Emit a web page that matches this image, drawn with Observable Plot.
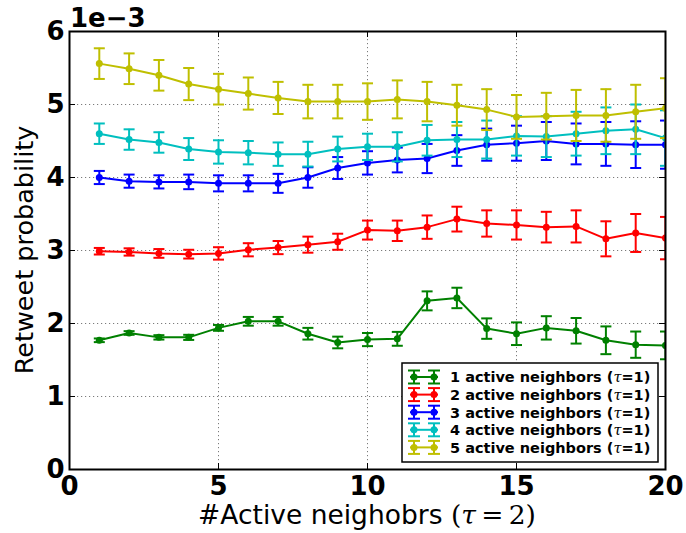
<!DOCTYPE html>
<html><head><meta charset="utf-8">
<script src="https://cdn.jsdelivr.net/npm/d3@7"></script>
<script src="https://cdn.jsdelivr.net/npm/@observablehq/plot@0.6"></script>
<style>body{margin:0;background:#fff} svg{display:block}</style>
</head><body><div id="chart"></div>
<script>
// x: number of active neighbors (tau = 2)
const xs = [1,2,3,4,5,6,7,8,9,10,11,12,13,14,15,16,17,18,19,20];
// values in units of 1e-3
const mean1 = [1.77,1.87,1.81,1.81,1.94,2.03,2.03,1.86,1.74,1.78,1.79,2.31,2.35,1.93,1.86,1.94,1.90,1.77,1.71,1.70];
const err1  = [0.025,0.025,0.03,0.035,0.04,0.06,0.06,0.08,0.08,0.09,0.095,0.13,0.14,0.14,0.155,0.16,0.175,0.19,0.18,0.19];
const mean2 = [2.99,2.98,2.96,2.95,2.96,3.01,3.04,3.08,3.12,3.28,3.27,3.32,3.43,3.37,3.35,3.32,3.33,3.16,3.24,3.17];
const err2  = [0.045,0.05,0.06,0.06,0.085,0.09,0.09,0.11,0.11,0.13,0.14,0.16,0.17,0.18,0.20,0.21,0.22,0.24,0.26,0.29];
const mean3 = [4.00,3.95,3.94,3.94,3.92,3.92,3.92,4.00,4.13,4.20,4.24,4.26,4.37,4.45,4.47,4.50,4.46,4.46,4.45,4.45];
const err3  = [0.09,0.09,0.09,0.10,0.11,0.11,0.13,0.14,0.15,0.16,0.17,0.20,0.21,0.22,0.24,0.26,0.28,0.30,0.32,0.33];
const mean4 = [4.60,4.52,4.48,4.39,4.35,4.34,4.32,4.32,4.39,4.42,4.42,4.51,4.52,4.52,4.57,4.56,4.60,4.64,4.66,4.54];
const err4  = [0.14,0.14,0.14,0.15,0.16,0.16,0.16,0.17,0.17,0.18,0.20,0.21,0.24,0.26,0.27,0.28,0.30,0.32,0.34,0.38];
const mean5 = [5.56,5.49,5.40,5.28,5.21,5.15,5.09,5.04,5.04,5.04,5.07,5.04,4.99,4.93,4.83,4.84,4.85,4.85,4.90,4.95];
const err5  = [0.21,0.21,0.21,0.22,0.21,0.22,0.22,0.23,0.23,0.25,0.26,0.27,0.28,0.28,0.30,0.32,0.35,0.36,0.37,0.41];

const seriesNames = ["1 active neighbors","2 active neighbors","3 active neighbors","4 active neighbors","5 active neighbors"];
const seriesTau = "1";
const colors = ["#008000","#ff0000","#0000ff","#00bfbf","#bfbf00"];
const xTicks = [0,5,10,15,20];
const yTicks = [0,1,2,3,4,5,6];
const xGrid = [5,10,15];
const yGrid = [1,2,3,4,5];
const xLabelText = "#Active neighobrs ";
const xLabelTau = "2";
const yLabelText = "Retweet probability";
const exponentText = "1e\u22123";

const means = [mean1,mean2,mean3,mean4,mean5];
const errs = [err1,err2,err3,err4,err5];
const rows = seriesNames.flatMap((name,i) => xs.map((x,j) => ({
  series: name, x, y: means[i][j], lo: means[i][j]-errs[i][j], hi: means[i][j]+errs[i][j]
})));

const capSymbol = {draw(ctx, size){ const r = Math.sqrt(size/Math.PI); ctx.moveTo(-r,0); ctx.lineTo(r,0); }};

const W = 686, H = 533, ML = 69, MR = 21, MT = 31, MB = 64;
const innerW = W-ML-MR, innerH = H-MT-MB;

const seriesMarks = seriesNames.flatMap(name => {
  const d = rows.filter(r => r.series === name);
  return [
    Plot.line(d, {x:"x", y:"y", stroke:"series", strokeWidth:2, clip:true}),
    Plot.ruleX(d, {x:"x", y1:"lo", y2:"hi", stroke:"series", strokeWidth:2, clip:true}),
    Plot.dot(d, {x:"x", y:"lo", symbol:capSymbol, r:5.5, fill:"none", stroke:"series", strokeWidth:2, clip:true}),
    Plot.dot(d, {x:"x", y:"hi", symbol:capSymbol, r:5.5, fill:"none", stroke:"series", strokeWidth:2, clip:true}),
    Plot.dot(d, {x:"x", y:"y", r:3.5, fill:"series", clip:true})
  ];
});

const chart = Plot.plot({
  width: W, height: H,
  marginLeft: ML, marginRight: MR, marginTop: MT, marginBottom: MB,
  style: {fontFamily: "DejaVu Sans", background: "#fff", color: "#000"},
  x: {domain: [0,20]},
  y: {domain: [0,6]},
  color: {domain: seriesNames, range: colors},
  marks: [
    Plot.gridY(yGrid, {stroke:"#000", strokeOpacity:0.65, strokeWidth:0.8, strokeDasharray:"1.2,2.8"}),
    Plot.gridX(xGrid, {stroke:"#000", strokeOpacity:0.65, strokeWidth:0.8, strokeDasharray:"1.2,2.8"}),
    ...seriesMarks,
    Plot.ruleX(xTicks, {x: d => d, insetTop: innerH-6, stroke:"#000", strokeWidth:1}),
    Plot.ruleX(xTicks, {x: d => d, insetBottom: innerH-6, stroke:"#000", strokeWidth:1}),
    Plot.ruleY(yTicks, {y: d => d, insetRight: innerW-6, stroke:"#000", strokeWidth:1}),
    Plot.ruleY(yTicks, {y: d => d, insetLeft: innerW-6, stroke:"#000", strokeWidth:1}),
    Plot.frame({stroke:"#000", strokeWidth:2}),
    Plot.axisX(xTicks, {tickSize:0, tickPadding:7, fontSize:26, fontWeight:"bold", label:null, tickFormat: d3.format("d")}),
    Plot.axisY(yTicks, {tickSize:0, tickPadding:5, fontSize:26, fontWeight:"bold", label:null, tickFormat: d3.format("d")})
  ]
});
document.getElementById("chart").appendChild(chart);

const svg = d3.select(chart);
const sx = chart.scale("x"), sy = chart.scale("y");
const x0 = sx.range[0], x1 = sx.range[1];
const yb = sy.range[0], yt = sy.range[1];

// exponent label
svg.append("text").attr("x", x0+1).attr("y", yt-4).attr("text-anchor","start")
  .attr("font-family","DejaVu Sans").attr("font-weight","bold").attr("font-size",26)
  .attr("fill","#000").text(exponentText);

// x label
const xl = svg.append("text").attr("x", (x0+x1)/2).attr("y", yb+55)
  .attr("text-anchor","middle").attr("font-family","DejaVu Sans").attr("font-size",26.5).attr("fill","#000");
xl.append("tspan").text(xLabelText);
xl.append("tspan").attr("font-family","DejaVu Serif").text("(");
xl.append("tspan").attr("font-family","DejaVu Serif").attr("font-style","italic").text("\u03c4");
xl.append("tspan").attr("font-family","DejaVu Serif").text("\u2009=\u2009" + xLabelTau + ")");

// y label
svg.append("text").attr("transform", `translate(33,${(yb+yt)/2}) rotate(-90)`)
  .attr("text-anchor","middle").attr("font-family","DejaVu Sans").attr("font-size",25.5)
  .attr("fill","#000").text(yLabelText);

// legend
const lg = svg.append("g");
const bx1 = x1-7, by1 = yb-7, bw = 256, bh = 99;
lg.append("rect").attr("x", bx1-bw).attr("y", by1-bh).attr("width", bw).attr("height", bh)
  .attr("fill","#fff").attr("stroke","#000").attr("stroke-width",1.5);
seriesNames.forEach((name,i) => {
  const cy = by1-bh+14 + i*17.6;
  const hx0 = bx1-bw+8, ma = hx0+4, mb = hx0+24, hx1 = hx0+28;
  const c = colors[i];
  lg.append("line").attr("x1",hx0).attr("x2",hx1).attr("y1",cy).attr("y2",cy).attr("stroke",c).attr("stroke-width",2);
  [ma,mb].forEach(mx => {
    lg.append("line").attr("x1",mx).attr("x2",mx).attr("y1",cy-6.5).attr("y2",cy+6.5).attr("stroke",c).attr("stroke-width",2);
    lg.append("line").attr("x1",mx-6).attr("x2",mx+6).attr("y1",cy-6.5).attr("y2",cy-6.5).attr("stroke",c).attr("stroke-width",2);
    lg.append("line").attr("x1",mx-6).attr("x2",mx+6).attr("y1",cy+6.5).attr("y2",cy+6.5).attr("stroke",c).attr("stroke-width",2);
    lg.append("circle").attr("cx",mx).attr("cy",cy).attr("r",3.5).attr("fill",c);
  });
  const t = lg.append("text").attr("x", hx1+12).attr("y", cy+5.3).attr("text-anchor","start")
    .attr("font-family","DejaVu Sans").attr("font-weight","bold").attr("font-size",14.5).attr("fill","#000");
  t.append("tspan").text(name + " (");
  t.append("tspan").attr("font-family","DejaVu Serif").attr("font-style","italic").attr("font-weight","normal").text("\u03c4");
  t.append("tspan").text("=" + seriesTau + ")");
});
</script>
</body></html>
